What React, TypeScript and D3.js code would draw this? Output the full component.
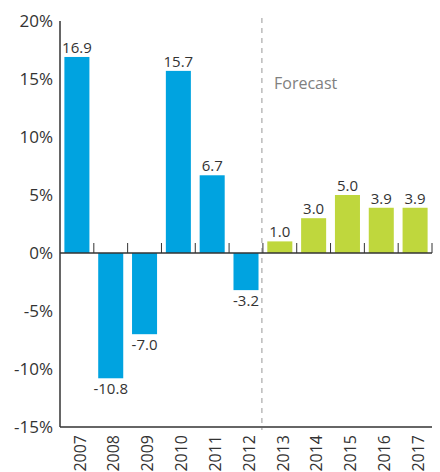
import React from "react";
import * as d3 from "d3";

const years = ["2007", "2008", "2009", "2010", "2011", "2012", "2013", "2014", "2015", "2016", "2017"];
const growth = [16.9, -10.8, -7.0, 15.7, 6.7, -3.2, 1.0, 3.0, 5.0, 3.9, 3.9];
const forecastFrom = "2013";
const yTicks = [20, 15, 10, 5, 0, -5, -10, -15];

const W = 440;
const H = 472;
const font = "'Open Sans', 'Noto Sans', sans-serif";

export default function App() {
  const x = d3.scaleBand().domain(years).range([60, 432]).paddingInner(0.26).paddingOuter(0.13);
  const y = d3.scaleLinear().domain([-15, 20]).range([427, 21]);
  const step = x.step();
  const x0 = 60;
  const firstForecast = years.indexOf(forecastFrom);
  const divider = x0 + step * firstForecast - 1;

  return (
    <svg width={W} height={H} style={{ position: "absolute", left: 0, top: 0 }} fontFamily={font}>
      {/* bars */}
      {years.map((yr, i) => {
        const v = growth[i];
        const top = y(Math.max(0, v));
        const h = Math.abs(y(v) - y(0));
        return (
          <g key={yr}>
            <rect
              x={x(yr)}
              y={top}
              width={x.bandwidth()}
              height={h}
              fill={i >= firstForecast ? "#bfd73d" : "#00a3e0"}
            />
            <text
              x={x(yr)! + x.bandwidth() / 2}
              y={v >= 0 ? y(v) - 4 : y(v) + 16}
              textAnchor="middle"
              fontSize={15}
              fill="#333"
            >
              {v.toFixed(1)}
            </text>
          </g>
        );
      })}

      {/* forecast divider */}
      <line x1={divider} x2={divider} y1={18} y2={430} stroke="#999" strokeWidth={1} strokeDasharray="5,5" />
      <text x={274} y={89} fontSize={16} fill="#808080">Forecast</text>

      {/* axes */}
      <line x1={60} x2={60} y1={y(20)} y2={y(-15)} stroke="#333" strokeWidth={1.5} />
      <line x1={60} x2={432} y1={y(-15)} y2={y(-15)} stroke="#333" strokeWidth={1.5} />
      <line x1={60} x2={432} y1={y(0)} y2={y(0)} stroke="#333" strokeWidth={1.5} />
      {years.map((yr, i) => (
        <line
          key={"t" + yr}
          x1={x0 + step * (i + 1)}
          x2={x0 + step * (i + 1)}
          y1={y(0) - 10}
          y2={y(0)}
          stroke="#333"
          strokeWidth={1}
        />
      ))}

      {yTicks.map((t) => (
        <text key={t} x={53} y={y(t)} dy="0.36em" textAnchor="end" fontSize={17} fill="#333">
          {t}%
        </text>
      ))}

      {years.map((yr) => (
        <text
          key={"l" + yr}
          transform={`translate(${x(yr)! + x.bandwidth() / 2 + 3},435) rotate(-90)`}
          dy="0.36em"
          textAnchor="end"
          fontSize={16}
          fill="#333"
        >
          {yr}
        </text>
      ))}
    </svg>
  );
}
